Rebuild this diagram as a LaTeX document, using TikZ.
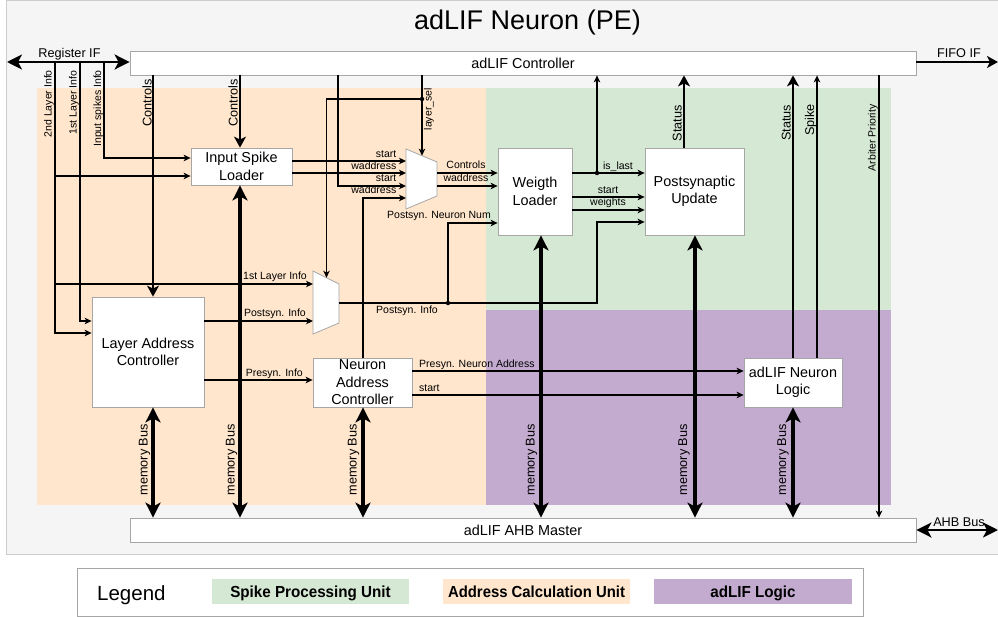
\documentclass[tikz,border=0pt]{standalone}
\usepackage{fontspec}
\usepackage{graphicx}
\setmainfont{Liberation Sans}
\usetikzlibrary{arrows.meta}

\definecolor{panelfill}{HTML}{F5F5F5}
\definecolor{panelline}{HTML}{CCCCCC}
\definecolor{boxline}{HTML}{A6A6A6}
\definecolor{addrcol}{HTML}{FFE6CC}
\definecolor{spikecol}{HTML}{D5E8D4}
\definecolor{logiccol}{HTML}{C3ABD0}

\newcommand{\fsTitle}{\fontsize{27}{32}\selectfont}
\newcommand{\fsBlock}{\fontsize{14.4}{17.5}\selectfont}
\newcommand{\fsBus}{\fontsize{12.7}{15}\selectfont}
\newcommand{\fsSig}{\fontsize{10.5}{12.6}\selectfont}
\newcommand{\fsLegend}{\fontsize{20.5}{24}\selectfont}
\newcommand{\fsLegItem}{\fontsize{16}{19}\selectfont\bfseries}

\tikzset{
  thintip/.tip={Stealth[length=7pt,width=6.5pt,inset=2pt]},
  ctltip/.tip={Stealth[length=11pt,width=12pt,inset=3pt]},
  bustip/.tip={Stealth[length=15pt,width=15pt,inset=4pt]},
  block/.style={draw=boxline, fill=white, line width=0.8pt, inner sep=0pt, align=center, font=\fsBlock},
  blocktext/.style={inner sep=0pt, align=center, font=\fsBlock},
  muxshape/.style={draw=boxline, fill=white, line width=0.8pt},
  sig/.style={line width=1.3pt, -thintip},
  ctl/.style={line width=2.3pt, -ctltip},
  membus/.style={line width=3.2pt, bustip-bustip},
  extbus/.style={line width=2.6pt, bustip-bustip},
  lbl/.style={font=\fsSig, inner sep=0pt},
  vsig/.style={font=\fsSig, inner sep=0pt, rotate=90, anchor=base east},
  vbus/.style={font=\fsBus, inner sep=0pt, rotate=90, anchor=base east},
  jdot/.style={circle, fill=black, inner sep=0pt, minimum size=4.5pt},
  legitem/.style={minimum height=25pt, inner sep=0pt, text height=13.5pt, text depth=1.5pt, font=\fsLegItem},
}

\begin{document}
\begin{tikzpicture}[x=1pt, y=-1pt]
\useasboundingbox (0,0) rectangle (998,617);

% processing element frame and title
\filldraw[fill=panelfill, draw=panelline, line width=1pt] (6,0.5) rectangle (1012,554);
\node[font=\fsTitle, anchor=base] (title) at (527.5,30) {adLIF Neuron (PE)};

% functional regions
\fill[addrcol] (37,88) rectangle (486,505);
\fill[spikecol] (486,88) rectangle (891,310);
\fill[logiccol] (486,310) rectangle (891,505);

% blocks
\node[block, minimum width=786pt, minimum height=24pt] (ctrl) at (523,63) {adLIF Controller};
\node[block, minimum width=786pt, minimum height=24pt] (ahb) at (523,530) {adLIF AHB Master};
\node[block, minimum width=101pt, minimum height=37pt] (isl) at (241.5,166.5) {Input Spike\\Loader};
\node[block, minimum width=112pt, minimum height=110pt] (lac) at (148,352) {Layer Address\\Controller};
\node[block, minimum width=99pt, minimum height=49pt] (nac) at (362.5,382.5) {};
\node[blocktext] (nactext) at (nac.center) {Neuron\\Address\\Controller};
\node[block, minimum width=74pt, minimum height=87pt] (wl) at (535,191.5) {Weigth\\Loader};
\node[block, minimum width=99pt, minimum height=87pt] (pu) at (694.5,191.5) {Postsynaptic\\Update};
\node[block, minimum width=98pt, minimum height=49pt] (anl) at (793,382.5) {adLIF Neuron\\Logic};

% multiplexers
\filldraw[muxshape] (406,149) -- (437,162) -- (437,196) -- (406,209) -- cycle;
\filldraw[muxshape] (313,271) -- (339,284) -- (339,323) -- (313,334) -- cycle;

% ports and junctions
\coordinate (regL) at (7,62);
\coordinate (fifoR) at (998,62);
\coordinate (ahbR) at (998,530);
\coordinate (tapA) at (55,62);
\coordinate (tapB) at (80,62);
\coordinate (tapC) at (104,62);
\coordinate (m1i1) at (406,161);
\coordinate (m1i2) at (406,173);
\coordinate (m1i3) at (406,186);
\coordinate (m1i4) at (406,198);
\coordinate (m1sel) at (422,155.7);
\coordinate (m1o1) at (437,173);
\coordinate (m1o2) at (437,186);
\coordinate (m2i1) at (313,284);
\coordinate (m2i2) at (313,321);
\coordinate (m2sel) at (326.5,277.7);
\coordinate (m2o) at (339,303);
\coordinate (jsel) at (422,99);
\coordinate (jpost) at (448,303);
\coordinate (jlast) at (597,173);

% register interface and its taps
\draw[extbus] (regL) -- (ctrl.west |- regL);
\node[font=\fsBus, anchor=base] (lregif) at (69.5,57.5) {Register IF};
\draw[sig] (tapA) -- (55,333) -- (lac.west |- 0,333);
\draw[sig] (55,176) -- (isl.west |- 0,176);
\draw[sig] (55,284) -- (m2i1);
\draw[sig] (tapB) -- (80,321) -- (lac.west |- 0,321);
\draw[sig] (tapC) -- (104,158) -- (isl.west |- 0,158);
\node[vsig] (l2nd) at (51.5,70) {2nd Layer Info};
\node[vsig] (l1st) at (76.5,70.5) {1st Layer Info};
\node[vsig] (linsp) at (101,70) {Input spikes Info};
\node[lbl, anchor=base east] (l1li) at (307,280) {1st Layer Info};

% controls from the controller
\draw[ctl] (ctrl.south -| 153,0) -- (lac.north -| 153,0);
\node[vbus] (lctl1) at (151.5,79) {Controls};
\draw[ctl] (ctrl.south -| 240,0) -- (isl.north -| 240,0);
\node[vbus] (lctl2) at (237.5,79) {Controls};

% inputs of the upper multiplexer
\draw[sig] (isl.east |- m1i1) -- (m1i1);
\draw[sig] (isl.east |- m1i2) -- (m1i2);
\draw[sig] (ctrl.south -| 338,0) -- (338,186) -- (m1i3);
\draw[sig] (nac.north -| 363,0) -- (363,198) -- (m1i4);
\node[lbl, anchor=base east] (ls1) at (396.5,157.5) {start};
\node[lbl, anchor=base east] (lw1) at (396.5,169.5) {waddress};
\node[lbl, anchor=base east] (ls2) at (396.5,182) {start};
\node[lbl, anchor=base east] (lw2) at (396.5,194) {waddress};

% layer select
\draw[sig] (ctrl.south -| jsel) -- (m1sel);
\draw[sig] (jsel) -- (326.5,99) -- (m2sel);
\node[jdot] (jseldot) at (jsel) {};
\node[vsig] (lsel) at (431.5,88) {layer\_sel};

% upper multiplexer to weight loader
\draw[sig] (m1o1) -- (wl.west |- m1o1);
\draw[sig] (m1o2) -- (wl.west |- m1o2);
\node[lbl, anchor=base] (lctlo) at (466,169) {Controls};
\node[lbl, anchor=base] (lwo) at (466,181.7) {waddress};

% postsynaptic info
\draw[sig] (m2o) -- (597,303) -- (597,222) -- (pu.west |- 0,222);
\draw[sig] (jpost) -- (448,223) -- (wl.west |- 0,223);
\node[jdot] (jpostdot) at (jpost) {};
\node[lbl, anchor=base] (lpnn) at (439,219) {Postsyn. Neuron Num};
\node[lbl, anchor=base] (lpi) at (407,314) {Postsyn. Info};

% layer address controller outputs
\draw[sig] (lac.east |- m2i2) -- (m2i2);
\node[lbl, anchor=base east] (lpi2) at (306,317) {Postsyn. Info};
\draw[sig] (lac.east |- 0,380) -- (nac.west |- 0,380);
\node[lbl, anchor=base east] (lpri) at (303,376.5) {Presyn. Info};

% neuron address controller to neuron logic
\draw[sig] (nac.east |- 0,371) -- (anl.west |- 0,371);
\draw[sig] (nac.east |- 0,395) -- (anl.west |- 0,395);
\node[lbl, anchor=base west] (lpna) at (419,367) {Presyn. Neuron Address};
\node[lbl, anchor=base west] (lst3) at (419,391) {start};

% weight loader to postsynaptic update
\draw[sig] (wl.east |- jlast) -- (pu.west |- jlast);
\draw[sig] (jlast) -- (ctrl.south -| jlast);
\node[jdot] (jlastdot) at (jlast) {};
\draw[sig] (wl.east |- 0,197) -- (pu.west |- 0,197);
\draw[sig] (wl.east |- 0,210) -- (pu.west |- 0,210);
\node[lbl, anchor=base] (lislast) at (618,170) {is\_last};
\node[lbl, anchor=base] (lst4) at (608,193.5) {start};
\node[lbl, anchor=base] (lwts) at (608,206) {weights};

% status and spike back to the controller
\draw[ctl] (pu.north -| 684,0) -- (ctrl.south -| 684,0);
\node[vbus] (lstat1) at (681.5,105) {Status};
\draw[ctl] (anl.north) -- (ctrl.south -| anl.north);
\node[vbus] (lstat2) at (790.5,104.5) {Status};
\draw[sig] (anl.north -| 817,0) -- (ctrl.south -| 817,0);
\node[vbus] (lspike) at (814,104) {Spike};
\draw[sig] (ctrl.south -| 879,0) -- (ahb.north -| 879,0);
\node[vsig] (larb) at (875.5,104.5) {Arbiter Priority};

% memory buses to the AHB master
\draw[membus] (lac.south -| 153,0) -- (ahb.north -| 153,0);
\node[vbus] (lmb1) at (147.5,424) {memory Bus};
\draw[membus] (isl.south -| 240,0) -- (ahb.north -| 240,0);
\node[vbus] (lmb2) at (234.5,424) {memory Bus};
\draw[membus] (nac.south -| 363,0) -- (ahb.north -| 363,0);
\node[vbus] (lmb3) at (356.5,424) {memory Bus};
\draw[membus] (wl.south -| 541,0) -- (ahb.north -| 541,0);
\node[vbus] (lmb4) at (534.5,424) {memory Bus};
\draw[membus] (pu.south -| 695,0) -- (ahb.north -| 695,0);
\node[vbus] (lmb5) at (687,424) {memory Bus};
\draw[membus] (anl.south) -- (ahb.north -| anl.south);
\node[vbus] (lmb6) at (786,424) {memory Bus};

% external interfaces
\draw[line width=2.6pt, -ctltip] (ctrl.east |- fifoR) -- (fifoR);
\node[font=\fsBus, anchor=base] (lfifo) at (959,58) {FIFO IF};
\draw[extbus] (ahb.east |- ahbR) -- (ahbR);
\node[font=\fsBus, anchor=base] (lahb) at (959,526) {AHB Bus};

% legend
\node[draw=boxline, fill=white, line width=0.8pt, minimum width=786pt, minimum height=48pt, inner sep=0pt] (legend) at (470,592) {};
\node[font=\fsLegend, anchor=base west, inner sep=0pt] (legtitle) at (97,600) {Legend};
\node[legitem, fill=spikecol, minimum width=197pt] (legspike) at (310.5,591.5) {\scalebox{0.95}[1]{Spike Processing Unit}};
\node[legitem, fill=addrcol, minimum width=187pt] (legaddr) at (536.5,591.5) {\scalebox{0.93}[1]{Address Calculation Unit}};
\node[legitem, fill=logiccol, minimum width=198pt] (leglogic) at (753,591.5) {\scalebox{0.95}[1]{adLIF Logic}};
\end{tikzpicture}
\end{document}
